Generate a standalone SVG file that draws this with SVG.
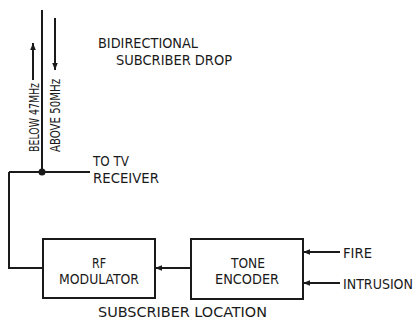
<svg xmlns="http://www.w3.org/2000/svg" width="415" height="320" viewBox="0 0 415 320">
<defs>
<style>
.t{font-family:"DejaVu Sans Condensed","DejaVu Sans",sans-serif;font-stretch:condensed;font-size:14px;fill:#1a1a1a}
.l{stroke:#1a1a1a;stroke-width:2;fill:none}
.b{stroke:#1a1a1a;stroke-width:2;fill:#fff}
</style>
<marker id="ah" viewBox="0 0 10 10" refX="10" refY="5" markerWidth="7" markerHeight="7" markerUnits="userSpaceOnUse" orient="auto">
<path d="M0,1 L10,5 L0,9 Z" fill="#1a1a1a"/>
</marker>
</defs>
<rect width="415" height="320" fill="#fff"/>
<g id="connectors">
<path class="l" d="M42,10 V172"/>
<path class="l" d="M9,172 H90"/>
<path class="l" d="M9,172 V268 H43"/>
<path class="l" d="M191,268 H155" marker-end="url(#ah)"/>
<path class="l" d="M340,252 H303" marker-end="url(#ah)"/>
<path class="l" d="M340,283 H303" marker-end="url(#ah)"/>
<path class="l" d="M33,80 V43" marker-end="url(#ah)"/>
<path class="l" d="M55,18 V70" marker-end="url(#ah)"/>
<circle cx="42" cy="172" r="3.5" fill="#1a1a1a"/>
</g>
<g id="rf-modulator">
<rect class="b" x="43" y="239" width="112" height="59"/>
<text class="t" x="92" y="268" textLength="14" lengthAdjust="spacingAndGlyphs">RF</text>
<text class="t" x="59" y="284" textLength="80" lengthAdjust="spacingAndGlyphs">MODULATOR</text>
</g>
<g id="tone-encoder">
<rect class="b" x="191" y="239" width="112" height="60"/>
<text class="t" x="231" y="268" textLength="34" lengthAdjust="spacingAndGlyphs">TONE</text>
<text class="t" x="215" y="284" textLength="64" lengthAdjust="spacingAndGlyphs">ENCODER</text>
</g>
<g id="labels">
<text class="t" x="98" y="47.5" textLength="100" lengthAdjust="spacingAndGlyphs">BIDIRECTIONAL</text>
<text class="t" x="116" y="65" textLength="116" lengthAdjust="spacingAndGlyphs">SUBCRIBER DROP</text>
<text class="t" x="93" y="166" textLength="36" lengthAdjust="spacingAndGlyphs">TO TV</text>
<text class="t" x="93" y="183" textLength="66" lengthAdjust="spacingAndGlyphs">RECEIVER</text>
<text class="t" x="343" y="258" textLength="29" lengthAdjust="spacingAndGlyphs">FIRE</text>
<text class="t" x="343" y="289" textLength="70" lengthAdjust="spacingAndGlyphs">INTRUSION</text>
<text class="t" x="98" y="317" textLength="169" lengthAdjust="spacingAndGlyphs">SUBSCRIBER LOCATION</text>
<text class="t" transform="translate(38.5,152) rotate(-90)" textLength="69" lengthAdjust="spacingAndGlyphs">BELOW 47MHz</text>
<text class="t" transform="translate(60,152) rotate(-90)" textLength="73" lengthAdjust="spacingAndGlyphs">ABOVE 50MHz</text>
</g>
</svg>
